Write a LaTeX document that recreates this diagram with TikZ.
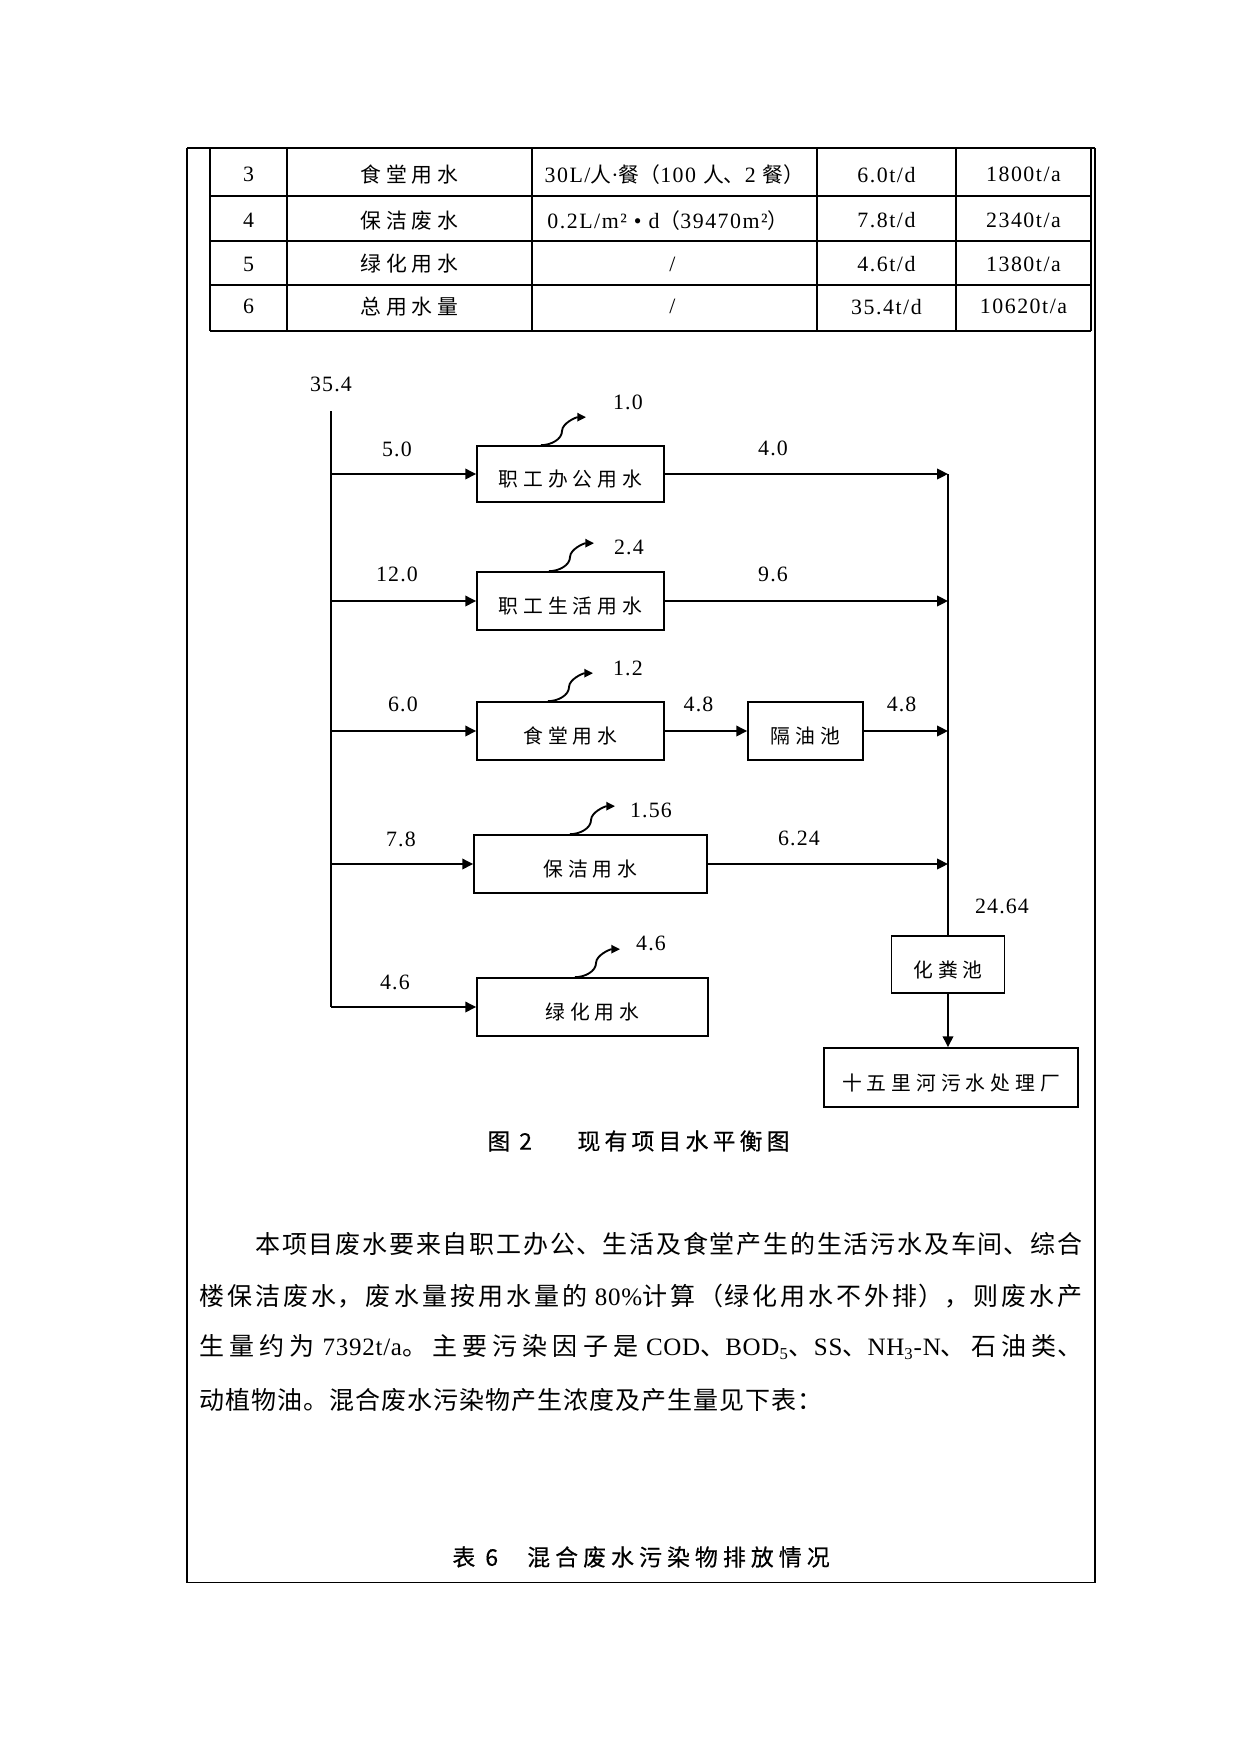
\documentclass[tikz,border=0pt]{standalone}
\usepackage{fontspec}
\setmainfont{Liberation Serif}
\newfontfamily\cjkp[LetterSpace=4]{Noto Sans CJK SC}
\newfontfamily\cjkb[LetterSpace=25]{Noto Sans CJK SC}
\newfontfamily\cjkt[LetterSpace=22]{Noto Sans CJK SC}
\newfontfamily\cjkn{Noto Sans CJK SC}
\newfontfamily\cjkc[LetterSpace=18,FakeBold=0.4]{Noto Sans CJK SC}
\newfontfamily\cjkd[LetterSpace=22,FakeBold=0.4]{Noto Sans CJK SC}
\newfontfamily\numd[LetterSpace=5]{Liberation Serif}
\newfontfamily\numt[LetterSpace=7]{Liberation Serif}
\newfontfamily\latp[LetterSpace=3]{Liberation Serif}
\usetikzlibrary{arrows.meta,calc}
\newcommand\tc[1]{{\fontsize{10pt}{12pt}\cjkn #1}}
\newcommand\lp[1]{\mbox{\latp #1}}
\newcommand\pline[2]{\parbox{#1}{\fontsize{12pt}{14pt}\cjkp\XeTeXlinebreaklocale "zh"\XeTeXlinebreakskip=0pt plus 8pt\relax\parfillskip=0pt\parindent=0pt\noindent #2}}
\begin{document}
\begin{tikzpicture}[x=0.48pt,y=-0.48pt,
 box/.style={draw,line width=0.8pt,inner sep=0pt,text height=13.3pt,text depth=1.1pt,font=\fontsize{9.5pt}{11pt}\cjkb},
 numlab/.style={inner sep=0pt,font=\fontsize{10.5pt}{12pt}\numd},
 tnum/.style={inner sep=0pt,font=\fontsize{10.5pt}{12pt}\numt},
 tcjk/.style={inner sep=0pt,font=\fontsize{10pt}{12pt}\cjkt},
 capt/.style={inner sep=0pt,anchor=west,font=\fontsize{11pt}{13pt}\cjkc},
 captb/.style={inner sep=0pt,anchor=west,font=\fontsize{11pt}{13pt}\cjkd},
 trunk/.style={line width=1pt},
 arr/.style={line width=1pt,-{Triangle[length=5.2pt,width=5pt]}},
 wave/.style={line width=0.9pt,-{Triangle[length=4.2pt,width=4pt]}},
 grid/.style={line width=0.6pt},
]
\useasboundingbox (0,0) rectangle (1241,1754);
% outer frame
\draw[line width=0.5pt] (187,148) -- (187,1582) -- (1095,1582) -- (1095,148);
\draw[line width=1.3pt] (187,148) -- (1095,148);
% table grid
\draw[grid] (210,196) -- (1091,196);
\draw[grid] (210,241) -- (1091,241);
\draw[grid] (210,285) -- (1091,285);
\draw[line width=0.9pt] (210,331) -- (1091,331);
\draw[line width=0.9pt] (210,148) -- (210,331);
\draw[grid] (287,148) -- (287,331);
\draw[grid] (532,148) -- (532,331);
\draw[grid] (817,148) -- (817,331);
\draw[grid] (956,148) -- (956,331);
\draw[line width=0.9pt] (1091,148) -- (1091,331);
% table text
\node[tnum] (r3a) at (248.5,174.6) {3};
\node[tcjk] (r3b) at (409.5,174.6) {食堂用水};
\node[tnum] (r3c) at (674.5,174.6) {30L/\tc{人}·\tc{餐（}100 \tc{人、}2 \tc{餐）}};
\node[tnum] (r3d) at (886.5,174.6) {6.0t/d};
\node[tnum] (r3e) at (1023.5,174.6) {1800t/a};
\node[tnum] (r4a) at (248.5,220.5) {4};
\node[tcjk] (r4b) at (409.5,220.5) {保洁废水};
\node[tnum] (r4c) at (668,220.5) {0.2L/m² • d\tc{（}39470m²\tc{）}};
\node[tnum] (r4d) at (886.5,220.5) {7.8t/d};
\node[tnum] (r4e) at (1023.5,220.5) {2340t/a};
\node[tnum] (r5a) at (248.5,264) {5};
\node[tcjk] (r5b) at (409.5,264) {绿化用水};
\node[tnum] (r5c) at (672.5,264) {/};
\node[tnum] (r5d) at (886.5,264) {4.6t/d};
\node[tnum] (r5e) at (1023.5,264) {1380t/a};
\node[tnum] (r6a) at (248.5,306.6) {6};
\node[tcjk] (r6b) at (409.5,306.6) {总用水量};
\node[tnum] (r6c) at (672.5,306.6) {/};
\node[tnum] (r6d) at (886.5,306.6) {35.4t/d};
\node[tnum] (r6e) at (1023.5,306.6) {10620t/a};
% boxes
\node[box,minimum width=187*0.48pt,minimum height=56*0.48pt] (b1) at (570.5,474) {职工办公用水};
\node[box,minimum width=187*0.48pt,minimum height=58*0.48pt] (b2) at (570.5,601) {职工生活用水};
\node[box,minimum width=187*0.48pt,minimum height=58*0.48pt] (b3) at (570.5,731) {食堂用水};
\node[box,minimum width=115*0.48pt,minimum height=58*0.48pt] (oil) at (805.5,731) {隔油池};
\node[box,minimum width=233*0.48pt,minimum height=58*0.48pt] (b4) at (590.5,864) {保洁用水};
\node[box,minimum width=231*0.48pt,minimum height=58*0.48pt] (b5) at (592.5,1007) {绿化用水};
\node[box,minimum width=113*0.48pt,minimum height=57*0.48pt] (hf) at (948,964.5) {化粪池};
\node[box,minimum width=254*0.48pt,minimum height=59*0.48pt] (plant) at (951,1077.5) {十五里河污水处理厂};
% trunk coordinates
\coordinate (mtop) at (331,411);
\coordinate (m1) at (331,474);
\coordinate (m2) at (331,601);
\coordinate (m3) at (331,731);
\coordinate (m4) at (331,864);
\coordinate (m5) at (331,1007);
\coordinate (r1) at (948,474);
\coordinate (r2) at (948,601);
\coordinate (r3) at (948,731);
\coordinate (r4) at (948,864);
\draw[trunk] (mtop) -- (m5);
\draw[arr] (m1) -- (b1.west);
\draw[arr] (m2) -- (b2.west);
\draw[arr] (m3) -- (b3.west);
\draw[arr] (m4) -- (b4.west);
\draw[arr] (m5) -- (b5.west);
\draw[trunk] (r1) -- (hf.north);
\draw[arr] (b1.east) -- (r1);
\draw[arr] (b2.east) -- (r2);
\draw[arr] (b3.east) -- (oil.west);
\draw[arr] (oil.east) -- (r3);
\draw[arr] (b4.east) -- (r4);
\draw[arr] (hf.south) -- (hf.south |- plant.north);
% evaporation waves
\coordinate (w1s) at ($(b1.north)+(-29.5,0)$);
\coordinate (w2s) at ($(b2.north)+(-21.5,0)$);
\coordinate (w3s) at ($(b3.north)+(-22.5,0)$);
\coordinate (w4s) at ($(b4.north)+(-20.5,0)$);
\coordinate (w5s) at ($(b5.north)+(-17.5,0)$);
\foreach \w in {w1s,w2s,w3s,w4s,w5s}{
  \draw[wave] (\w) .. controls +(10,0) and +(0,8) .. ($(\w)+(21,-14)$) .. controls +(0,-8) and +(-10,0) .. ($(\w)+(45,-28)$);
}
% numeric labels
\node[numlab] (l0) at (331,384) {35.4};
\node[numlab] (l1) at (397,449) {5.0};
\node[numlab] (l2) at (397,574) {12.0};
\node[numlab] (l3) at (403,704) {6.0};
\node[numlab] (l4) at (401,839) {7.8};
\node[numlab] (l5) at (395,982) {4.6};
\node[numlab] (e1) at (628,402) {1.0};
\node[numlab] (e2) at (629,547) {2.4};
\node[numlab] (e3) at (628,668) {1.2};
\node[numlab] (e4) at (651,810) {1.56};
\node[numlab] (e5) at (651,943) {4.6};
\node[numlab] (o1) at (773,448) {4.0};
\node[numlab] (o2) at (773,574) {9.6};
\node[numlab] (o3) at (698.5,704) {4.8};
\node[numlab] (o4) at (901.6,704) {4.8};
\node[numlab] (o5) at (799,838) {6.24};
\node[numlab] (o6) at (1002,906) {24.64};
% caption
\node[capt] (cap1) at (487,1141) {图\hspace{4.3pt}2\hspace{21.8pt}现有项目水平衡图};
% paragraph
\node[anchor=west,inner sep=0pt] (p1) at (255,1244) {\pline{396.96pt}{本项目废水要来自职工办公、生活及食堂产生的生活污水及车间、综合}};
\node[anchor=west,inner sep=0pt] (p2) at (199,1296) {\pline{423.84pt}{楼保洁废水，废水量按用水量的 \lp{80\%}计算（绿化用水不外排），则废水产}};
\node[anchor=west,inner sep=0pt] (p3) at (199,1347) {\pline{423.84pt}{生量约为 \lp{7392t/a}。主要污染因子是 \lp{COD}、\lp{BOD\textsubscript{5}}、\lp{SS}、\lp{NH\textsubscript{3}-N}、石油类、}};
\node[anchor=west,inner sep=0pt,font=\fontsize{12pt}{14pt}\cjkp] (p4) at (199,1400) {动植物油。混合废水污染物产生浓度及产生量见下表：};
% table caption
\node[captb] (cap2) at (452,1557) {表\hspace{4.8pt}6\hspace{14pt}混合废水污染物排放情况};
\end{tikzpicture}
\end{document}
